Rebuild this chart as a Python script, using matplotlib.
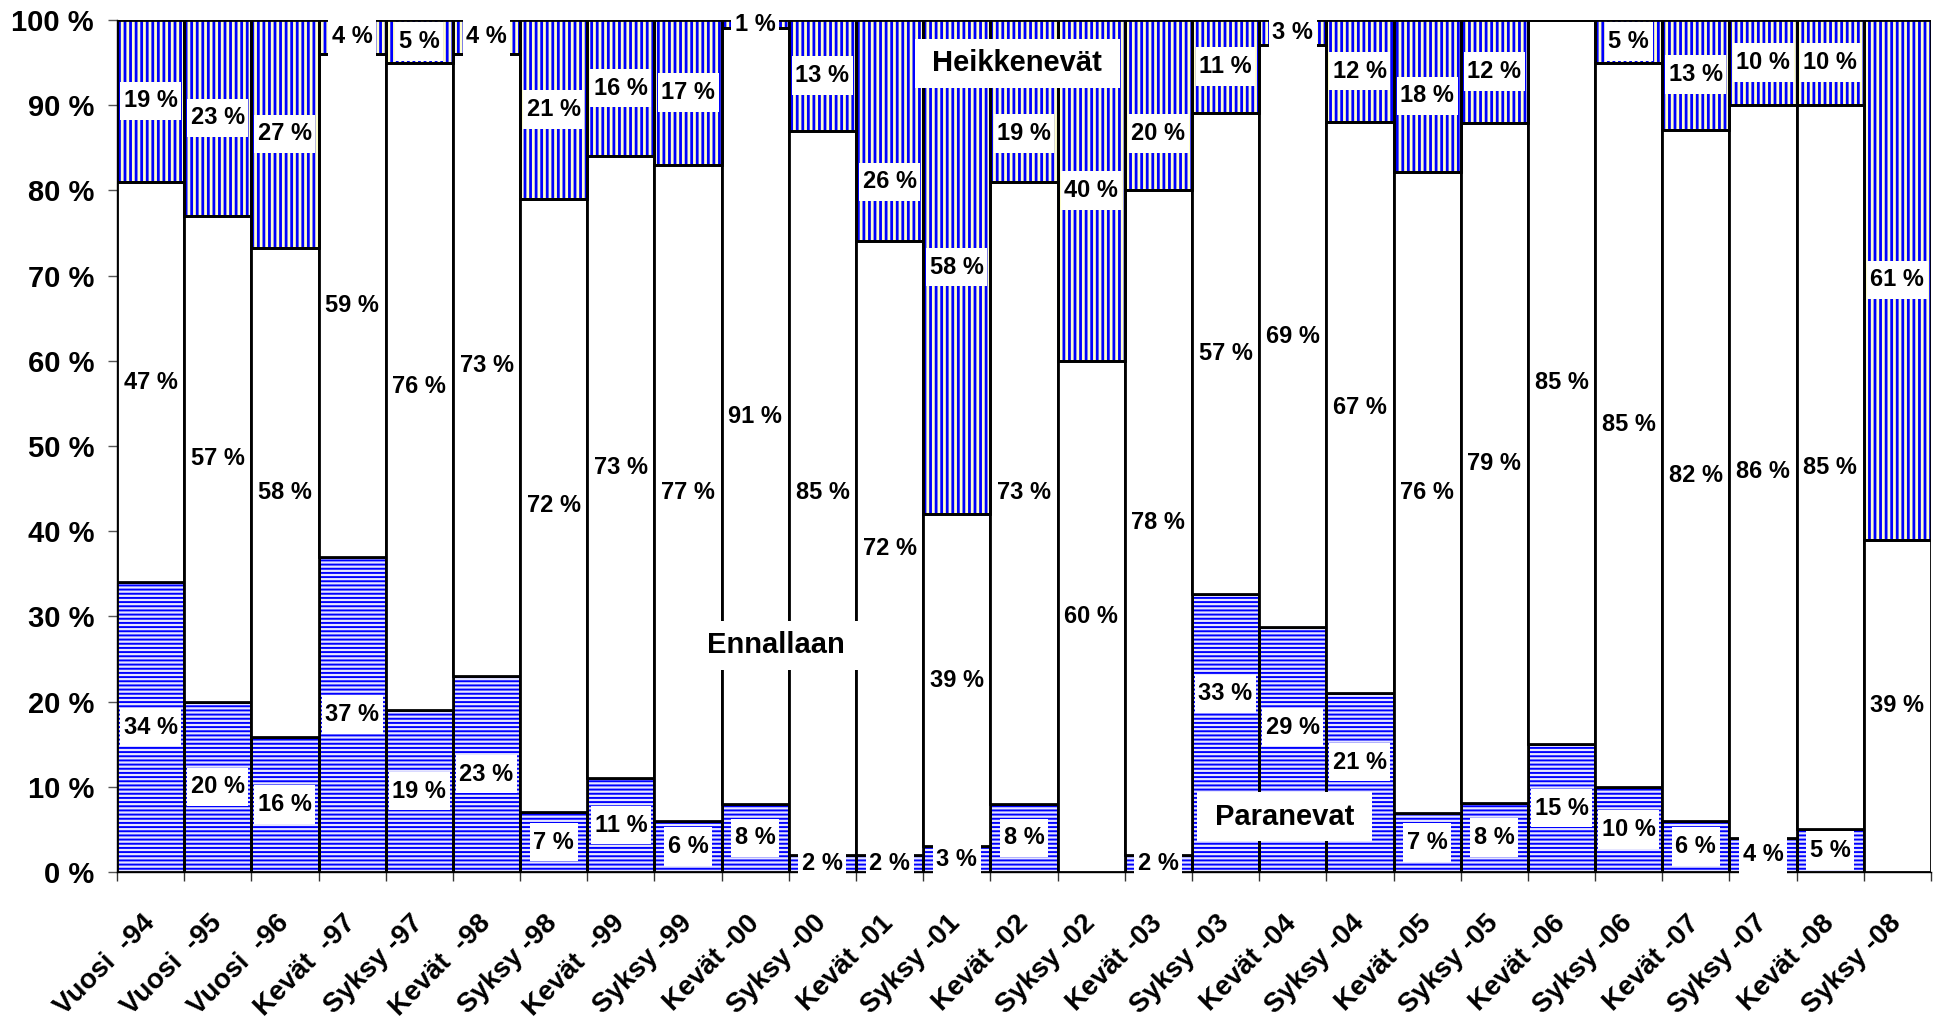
import matplotlib
matplotlib.use('Agg')
import matplotlib.pyplot as plt
from matplotlib.path import Path
import numpy as np

plt.rcParams['font.family'] = ['Liberation Sans', 'DejaVu Sans']
plt.rcParams['font.weight'] = 'bold'
plt.rcParams['hatch.linewidth'] = 2.0

categories = ['Vuosi  -94', 'Vuosi  -95', 'Vuosi  -96', 'Kevät  -97', 'Syksy -97',
              'Kevät  -98', 'Syksy -98', 'Kevät  -99', 'Syksy -99', 'Kevät -00',
              'Syksy -00', 'Kevät -01', 'Syksy -01', 'Kevät -02', 'Syksy -02',
              'Kevät -03', 'Syksy -03', 'Kevät -04', 'Syksy -04', 'Kevät -05',
              'Syksy -05', 'Kevät -06', 'Syksy -06', 'Kevät -07', 'Syksy -07',
              'Kevät -08', 'Syksy -08']
paranevat = [34, 20, 16, 37, 19, 23, 7, 11, 6, 8, 2, 2, 3, 8, 0, 2, 33, 29, 21, 7,
             8, 15, 10, 6, 4, 5, 0]
ennallaan = [47, 57, 58, 59, 76, 73, 72, 73, 77, 91, 85, 72, 39, 73, 60, 78, 57, 69, 67, 76,
             79, 85, 85, 82, 86, 85, 39]
heikkenevat = [19, 23, 27, 4, 5, 4, 21, 16, 17, 1, 13, 26, 58, 19, 40, 20, 11, 3, 12, 18,
               12, 0, 5, 13, 10, 10, 61]

y_ticks = list(range(0, 101, 10))

# a few value labels were moved by hand in the original to clear the series names
moved_labels = {('h', 11): 81, ('h', 13): 86.7, ('h', 15): 86.7,
                ('p', 16): 20.9, ('p', 17): 17.0, ('p', 18): 12.9}


def label_box(px, py):
    # white box with separate horizontal / vertical padding (in units of font size)
    def style(x0, y0, width, height, mutation_size):
        dx = px * mutation_size
        dy = py * mutation_size
        x1, y1 = x0 - dx, y0 - dy
        x2, y2 = x0 + width + dx, y0 + height + dy
        return Path([(x1, y1), (x2, y1), (x2, y2), (x1, y2), (x1, y1)],
                    [Path.MOVETO, Path.LINETO, Path.LINETO, Path.LINETO, Path.CLOSEPOLY])
    return style


p = np.array(paranevat, dtype=float)
e = np.array(ennallaan, dtype=float)
h = np.array(heikkenevat, dtype=float)
total = p + e + h
p_s = p / total * 100
e_s = e / total * 100
h_s = h / total * 100
x = np.arange(len(categories))

fig = plt.figure(figsize=(19.37, 10.18), dpi=100)
ax = fig.add_axes([0.0604, 0.1434, 0.9365, 0.837])

blue = '#0000FF'
# Paranevat: horizontal stripes
bars = ax.bar(x, p_s, width=1, color='#E6E6FF', edgecolor=blue, hatch='----', linewidth=0, zorder=1)
for b in bars:
    if hasattr(b, 'set_hatch_linewidth'):
        b.set_hatch_linewidth(1.4)
ax.bar(x, p_s, width=1, fill=False, edgecolor='black', linewidth=2, zorder=2)
# Ennallaan: white
ax.bar(x, e_s, bottom=p_s, width=1, color='white', edgecolor='black', linewidth=2, zorder=2)
# Heikkenevät: vertical stripes
bars = ax.bar(x, h_s, bottom=p_s + e_s, width=1, color='#FFFFCC', edgecolor=blue, hatch='|||',
              linewidth=0, zorder=1)
for b in bars:
    if hasattr(b, 'set_hatch_linewidth'):
        b.set_hatch_linewidth(2.0)
ax.bar(x, h_s, bottom=p_s + e_s, width=1, fill=False, edgecolor='black', linewidth=2, zorder=2)

# value labels
small_box = dict(boxstyle=label_box(0.15, 0.33), facecolor='white', edgecolor='none')
for key, vals, shares, bottoms in [('p', p, p_s, np.zeros_like(p_s)), ('e', e, e_s, p_s),
                                   ('h', h, h_s, p_s + e_s)]:
    for xi, v, s, b0 in zip(x, vals, shares, bottoms):
        if v <= 0:
            continue
        yc = moved_labels.get((key, xi), b0 + s / 2)
        ax.text(xi, yc, f'{v:.0f} %', ha='center', va='center', fontsize=17,
                fontweight='bold', bbox=small_box, zorder=3)

# series names
big_box = dict(boxstyle=label_box(0.6, 0.35), facecolor='white', edgecolor='none')
ax.text(12.9, 94.9, 'Heikkenevät', ha='center', va='center', fontsize=21, fontweight='bold',
        bbox=big_box, zorder=4)
ax.text(9.3, 26.6, 'Ennallaan', ha='center', va='center', fontsize=21, fontweight='bold',
        bbox=big_box, zorder=4)
ax.text(16.88, 6.5, 'Paranevat', ha='center', va='center', fontsize=21, fontweight='bold',
        bbox=big_box, zorder=4)

ax.set_xlim(-0.5, len(categories) - 0.5)
ax.set_ylim(0, 100)

ax.set_xticks(x, categories)
ax.set_xticks(np.arange(len(categories) + 1) - 0.5, minor=True)
ax.tick_params(axis='x', which='major', length=0, pad=34, labelsize=20)
ax.tick_params(axis='x', which='minor', length=6.5, width=1, color='#333333')
plt.setp(ax.get_xticklabels(), rotation=45, ha='right', va='center', rotation_mode='anchor',
         fontweight='bold')

ax.set_yticks(y_ticks, [f'{v} %' for v in y_ticks])
ax.tick_params(axis='y', length=6.5, width=1, color='#555555', pad=10, labelsize=21)
plt.setp(ax.get_yticklabels(), fontweight='bold')

for s in ['top', 'right']:
    ax.spines[s].set_visible(False)
for s in ['left', 'bottom']:
    ax.spines[s].set_linewidth(1)

fig.savefig('out.png', dpi=100)
